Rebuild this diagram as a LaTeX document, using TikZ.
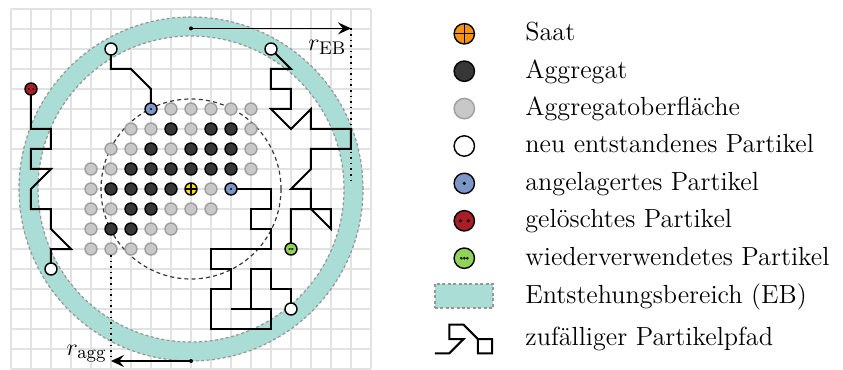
\documentclass[tikz,border=0pt]{standalone}
\usepackage{fontspec}
\usetikzlibrary{arrows.meta,calc}
\definecolor{gridc}{RGB}{226,226,226}
\definecolor{ringc}{RGB}{170,221,214}
\definecolor{ringb}{RGB}{150,150,150}
\definecolor{darkp}{RGB}{55,55,55}
\definecolor{grayp}{RGB}{200,200,200}
\definecolor{grayb}{RGB}{158,158,158}
\definecolor{bluep}{RGB}{125,150,200}
\definecolor{redp}{RGB}{168,30,36}
\definecolor{greenp}{RGB}{145,210,90}
\definecolor{seedy}{RGB}{255,224,0}
\definecolor{seedo}{RGB}{245,146,20}
\begin{document}
\begin{tikzpicture}[x=10pt,y=10pt,
  font=\fontsize{13.1}{15}\selectfont,
  gridline/.style={draw=gridc, line width=0.8pt},
  ringborder/.style={draw=ringb, line width=0.6pt, dash pattern=on 1.5pt off 1.2pt},
  aggborder/.style={draw=darkp, line width=0.6pt, dash pattern=on 2pt off 1.6pt},
  walk/.style={draw=black, line width=1pt, line join=miter},
  guide/.style={draw=black, line width=0.8pt, dotted},
  radarrow/.style={draw=black, line width=0.8pt, -{Stealth[length=6.5pt,width=6pt,inset=2.4pt]}},
  enddot/.style={circle, fill=black, inner sep=0pt, minimum size=2pt},
  part/.style={circle, inner sep=0pt, outer sep=0pt, minimum size=2*#1, line width=0.7pt, draw=black},
  pdark/.style={part=#1, fill=darkp},
  pgray/.style={part=#1, fill=grayp, draw=grayb},
  pwhite/.style={part=#1, fill=white},
  pblue/.style={part=#1, fill=bluep, path picture={\fill[black] (path picture bounding box.center) circle[radius=0.17*#1];}},
  pred/.style={part=#1, fill=redp, path picture={\fill[black] ([xshift=-0.38*#1]path picture bounding box.center) circle[radius=0.16*#1] ([xshift=0.38*#1]path picture bounding box.center) circle[radius=0.16*#1];}},
  pgreen/.style={part=#1, fill=greenp, path picture={\fill[black] ([xshift=-0.3*#1]path picture bounding box.center) circle[radius=0.14*#1] (path picture bounding box.center) circle[radius=0.14*#1] ([xshift=0.3*#1]path picture bounding box.center) circle[radius=0.14*#1];}},
  pseed/.style 2 args={part=#1, fill=#2, path picture={\draw[black, line width=0.6pt] (path picture bounding box.north) -- (path picture bounding box.south) (path picture bounding box.west) -- (path picture bounding box.east);}},
  ebbox/.style={rectangle, fill=ringc, draw=ringb, line width=0.6pt, dash pattern=on 1.5pt off 1.2pt, minimum width=29pt, minimum height=12pt, inner sep=0pt},
  legtext/.style={anchor=base west, inner sep=0pt},
  radlabel/.style={anchor=base east, inner sep=0pt},
]
\useasboundingbox (-9.55,-9.05) rectangle (32.6,9.45);

% grid
\draw[gridline, step=10pt] (-9,-9) grid (9,9);

% Entstehungsbereich ring
\fill[ringc, even odd rule] (0,0) circle[radius=8.6] (0,0) circle[radius=7.65];
\draw[ringborder] (0,0) circle[radius=8.6] (0,0) circle[radius=7.65];

% aggregate radius circle
\draw[aggborder] (0,0) circle[radius=4.5];

% r_EB
\node[enddot] (ebdot) at (0,8.03) {};
\coordinate (ebtip) at (8,8.03);
\coordinate (ebbot) at (8,0.3);
\draw[guide] (ebtip) -- (ebbot);
\draw[radarrow] (ebdot.center) -- (ebtip);
\node[radlabel] (ebl) at (7.78,6.95) {$r_{\mathrm{EB}}$};

% aggregate particles
\foreach \x/\y in {-1/3,1/3,2/3,-2/2,0/2,1/2,2/2,-3/1,-2/1,-1/1,0/1,1/1,2/1,-4/0,-3/0,-2/0,-1/0,-3/-1,-2/-1,-4/-2,-3/-2}
  \node[pdark=3pt] (dk\x y\y) at (\x,\y) {};
\foreach \x/\y in {-1/4,0/4,1/4,2/4,3/4,-3/3,-2/3,0/3,3/3,-4/2,-3/2,-1/2,3/2,-5/1,-4/1,3/1,-5/0,1/0,-5/-1,-4/-1,-1/-1,0/-1,1/-1,-5/-2,-2/-2,-1/-2,-5/-3,-4/-3,-3/-3,-2/-3}
  \node[pgray=3pt] (gy\x y\y) at (\x,\y) {};
\node[pseed={3pt}{seedy}] (seed) at (0,0) {};
\node[pblue=3pt] (b1) at (-2,4) {};
\node[pblue=3pt] (b2) at (2,0) {};
\node[pwhite=3pt] (w1) at (-4,7) {};
\node[pwhite=3pt] (w2) at (4,7) {};
\node[pwhite=3pt] (w3) at (-7,-4) {};
\node[pwhite=3pt] (w4) at (5,-6) {};
\node[pred=3pt] (r1) at (-8,5) {};
\node[pgreen=3pt] (g1) at (5,-3) {};

% r_agg
\node[enddot] (aggdot) at (0,-8.6) {};
\coordinate (aggtip) at (-4,-8.6);
\draw[guide] (gy-4y-3) -- (aggtip);
\draw[radarrow] (aggdot.center) -- (aggtip);
\node[radlabel] (aggl) at (-4.2,-8.3) {$r_{\mathrm{agg}}$};

% random walks
\draw[walk] (w1) -- (-4,6) -- (-3,6) -- (-2,5) -- (b1);
\draw[walk] (w3) -- (-7,-3) -- (-6,-3) -- (-7,-2) -- (-7,-1) -- (-8,-1) -- (-8,0) -- (-7,1) -- (-8,1) -- (-8,2) -- (-7,2) -- (-7,3) -- (-8,3) -- (r1);
\draw[walk] (w2) -- (5,6) -- (4,6) -- (4,5) -- (5,5) -- (5,4) -- (4,4) -- (5,3) -- (6,4) -- (6,3) -- (8,3) -- (8,2) -- (6,2) -- (6,1) -- (5,0) -- (6,0) -- (6,-1) -- (7,-2) -- (7,-1) -- (6,-1) -- (5,-1) -- (g1);
\draw[walk] (w4) -- (5,-5) -- (4,-5) -- (4,-4) -- (3,-4) -- (3,-6) -- (2,-6) -- (4,-6) -- (4,-7) -- (1,-7) -- (1,-5) -- (2,-5) -- (2,-4) -- (1,-4) -- (1,-3) -- (4,-3) -- (4,-2) -- (3,-2) -- (3,-1) -- (4,-1) -- (4,0) -- (b2);

% legend
\node[pseed={5.1pt}{seedo}] (ls) at (13.665,7.76) {};
\node[pdark=5.1pt] (ld) at (13.665,5.89) {};
\node[pgray=5.1pt] (lg) at (13.665,4.02) {};
\node[pwhite=5.1pt] (lw) at (13.665,2.15) {};
\node[pblue=5.1pt] (lb) at (13.665,0.28) {};
\node[pred=5.1pt] (lr) at (13.665,-1.59) {};
\node[pgreen=5.1pt] (lgr) at (13.665,-3.46) {};
\node[ebbox] (leb) at (13.65,-5.35) {};
\coordinate (lpath) at (12.2,-8.215);
\begin{scope}[shift={(lpath)}, scale=0.715]
  \draw[walk] (0,0) -- (1,0) -- (2,1) -- (1,1) -- (1,2) -- (2,2) -- (3,1) -- (3,0) -- (4,0) -- (4,1) -- (3,1);
\end{scope}

\node[legtext] (t1) at (16.7,7.41) {Saat};
\node[legtext] (t2) at (16.7,5.54) {Aggregat};
\node[legtext] (t3) at (16.7,3.67) {Aggregatoberfläche};
\node[legtext] (t4) at (16.7,1.80) {neu entstandenes Partikel};
\node[legtext] (t5) at (16.7,-0.07) {angelagertes Partikel};
\node[legtext] (t6) at (16.7,-1.94) {gelöschtes Partikel};
\node[legtext] (t7) at (16.7,-3.81) {wiederverwendetes Partikel};
\node[legtext] (t8) at (16.7,-5.72) {Entstehungsbereich (EB)};
\node[legtext] (t9) at (16.7,-7.8) {zufälliger Partikelpfad};
\end{tikzpicture}
\end{document}
